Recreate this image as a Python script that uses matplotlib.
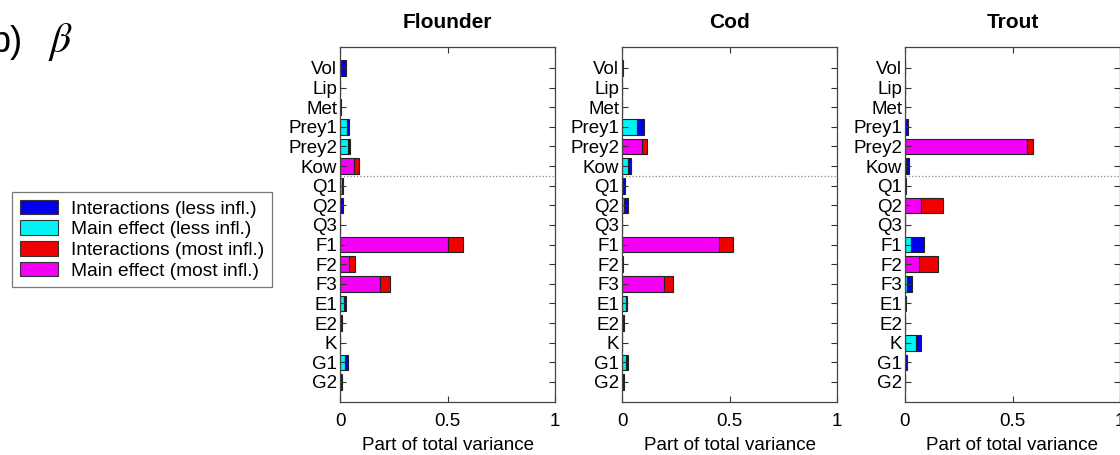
import matplotlib.pyplot as plt
from matplotlib.patches import Patch
import numpy as np

plt.rcParams["font.family"] = ["Liberation Sans", "DejaVu Sans"]
plt.rcParams["mathtext.fontset"] = "stix"

factors = ["Vol", "Lip", "Met", "Prey1", "Prey2", "Kow", "Q1", "Q2", "Q3",
           "F1", "F2", "F3", "E1", "E2", "K", "G1", "G2"]
species = ["Flounder", "Cod", "Trout"]

# main effect and interaction parts of total variance, per factor
flounder_main = [0.003, 0.0, 0.001, 0.033, 0.037, 0.066, 0.008, 0.002, 0.0,
                 0.50, 0.042, 0.188, 0.020, 0.002, 0.0, 0.023, 0.002]
flounder_inter = [0.025, 0.0, 0.002, 0.011, 0.010, 0.024, 0.008, 0.010, 0.0,
                  0.07, 0.028, 0.046, 0.010, 0.005, 0.0, 0.013, 0.005]
cod_main = [0.001, 0.0, 0.0, 0.071, 0.093, 0.030, 0.003, 0.008, 0.0,
            0.453, 0.002, 0.197, 0.018, 0.002, 0.0, 0.020, 0.002]
cod_inter = [0.004, 0.002, 0.002, 0.031, 0.025, 0.013, 0.012, 0.020, 0.0,
             0.063, 0.003, 0.042, 0.005, 0.006, 0.002, 0.010, 0.005]
trout_main = [0.0, 0.0, 0.0, 0.002, 0.566, 0.004, 0.001, 0.074, 0.0,
              0.028, 0.063, 0.008, 0.001, 0.0, 0.049, 0.002, 0.0]
trout_inter = [0.0, 0.0, 0.0, 0.012, 0.030, 0.015, 0.004, 0.105, 0.0,
               0.061, 0.091, 0.026, 0.005, 0.002, 0.026, 0.006, 0.0]

# factors counted as "most influential" for each species
flounder_most = ["Kow", "F1", "F2", "F3"]
cod_most = ["Prey2", "F1", "F3"]
trout_most = ["Prey2", "Q2", "F2"]

mains = [flounder_main, cod_main, trout_main]
inters = [flounder_inter, cod_inter, trout_inter]
mosts = [flounder_most, cod_most, trout_most]

c_inter_less = "#0000ee"
c_main_less = "#00f4f4"
c_inter_most = "#f00000"
c_main_most = "#f400f4"

W, H = 1120, 455
fig = plt.figure(figsize=(W / 100, H / 100), dpi=100)

lefts = [340, 622, 905]
y = np.arange(len(factors))
fs = 13.5

for i, name in enumerate(species):
    ax = fig.add_axes([lefts[i] / W, (H - 402) / H, 215 / W, 355 / H])
    most = [f in mosts[i] for f in factors]
    main = np.array(mains[i])
    inter = np.array(inters[i])
    main_cols = [c_main_most if m else c_main_less for m in most]
    inter_cols = [c_inter_most if m else c_inter_less for m in most]
    ax.barh(y, main, height=0.8, color=main_cols, edgecolor="#222222", linewidth=0.8)
    ax.barh(y, inter, left=main, height=0.8, color=inter_cols, edgecolor="#222222", linewidth=0.8)
    ax.axhline(5.5, color="#888888", linestyle=":", linewidth=0.9)
    ax.set_xlim(0, 1)
    ax.set_ylim(17.02, -1.07)
    ax.set_xticks([0, 0.5, 1])
    ax.set_xticklabels(["0", "0.5", "1"])
    ax.set_yticks(y)
    ax.set_yticklabels(factors)
    ax.tick_params(direction="in", top=True, right=True, length=4, width=0.8,
                   labelsize=fs, color="#333333", pad=2)
    ax.tick_params(axis="x", pad=8)
    for s in ax.spines.values():
        s.set_color("#444444")
        s.set_linewidth(0.9)
    ax.set_title(name, fontsize=15, fontweight="bold", pad=14)
    ax.set_xlabel("Part of total variance", fontsize=fs, labelpad=5)

handles = [Patch(facecolor=c_inter_less, edgecolor="#333333", linewidth=0.8),
           Patch(facecolor=c_main_less, edgecolor="#333333", linewidth=0.8),
           Patch(facecolor=c_inter_most, edgecolor="#333333", linewidth=0.8),
           Patch(facecolor=c_main_most, edgecolor="#333333", linewidth=0.8)]
labels = ["Interactions (less infl.)", "Main effect (less infl.)",
          "Interactions (most infl.)", "Main effect (most infl.)"]
leg = fig.legend(handles, labels, loc="upper left", bbox_to_anchor=(12 / W, 1 - 192 / H),
                 borderaxespad=0, fontsize=13.8, frameon=True, fancybox=False,
                 handlelength=2.0, handleheight=0.8, labelspacing=0.14,
                 handletextpad=0.7, borderpad=0.4)
leg.get_frame().set_edgecolor("#555555")
leg.get_frame().set_linewidth(0.9)

fig.text(23 / W, 1 - 52 / H, "b)", fontsize=26, ha="right", va="baseline")
fig.text(48 / W, 1 - 52 / H, r"$\beta$", fontsize=30, ha="left", va="baseline")

fig.savefig("out.png", dpi=100)
